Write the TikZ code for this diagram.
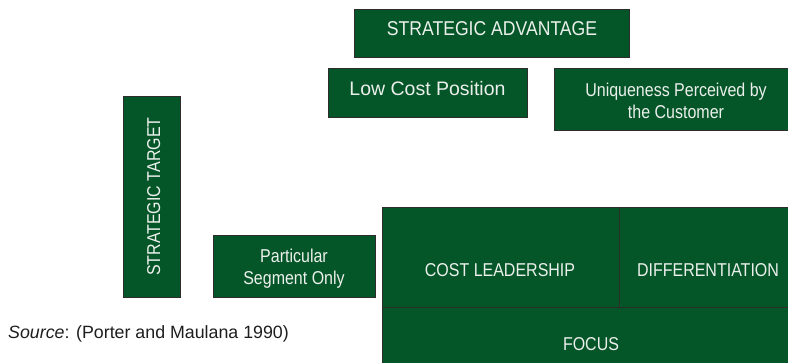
\documentclass[tikz,border=0pt]{standalone}
\usepackage{fontspec}
\setmainfont{Liberation Sans}
\newfontfamily\condf[FakeStretch=0.86]{Liberation Sans}
\newfontfamily\condsa[FakeStretch=0.88]{Liberation Sans}
\definecolor{pgreen}{RGB}{4,86,40}
\definecolor{pborder}{RGB}{45,45,45}
\definecolor{ptext}{RGB}{236,240,236}
\definecolor{psrc}{RGB}{30,30,30}
\begin{document}
\begin{tikzpicture}[x=1pt,y=-1pt,
  gbox/.style={draw=pborder, line width=1pt, fill=pgreen, inner sep=0pt, anchor=north west},
  ltxt/.style={text=ptext, inner sep=0pt, font=\condf\fontsize{18.6}{22}\selectfont, align=center}]
\useasboundingbox (0,0) rectangle (788,362);
\clip (0,0) rectangle (788,362);
% boxes
\node[gbox, minimum width=275pt, minimum height=48pt] (sa) at (354,9) {};
\node[gbox, minimum width=199pt, minimum height=49pt] (lcp) at (328,68) {};
\node[gbox, minimum width=244pt, minimum height=62pt] (uniq) at (554,68) {};
\node[gbox, minimum width=57pt, minimum height=201pt] (st) at (123,96) {};
\node[gbox, minimum width=162pt, minimum height=62pt] (pso) at (213,235) {};
\node[gbox, minimum width=237pt, minimum height=100pt] (cl) at (382,207) {};
\node[gbox, minimum width=179pt, minimum height=100pt] (diff) at (619,207) {};
\node[gbox, minimum width=416pt, minimum height=70pt] (focus) at (382,307) {};
% texts
\node[ltxt, font=\condsa\fontsize{20}{24}\selectfont, anchor=base] (satext) at (492,35.7) {STRATEGIC ADVANTAGE};
\node[ltxt, font=\fontsize{19.5}{24}\selectfont, anchor=base] (lcptext) at (427.5,95) {Low Cost Position};
\node[ltxt, anchor=north] (uniqtext) at (676,83.3) {Uniqueness Perceived by\\the Customer};
\node[ltxt, anchor=base, rotate=90] (sttext) at (160,196.7) {STRATEGIC TARGET};
\node[ltxt, anchor=north] (psotext) at (294,249.3) {Particular\\Segment Only};
\node[ltxt, anchor=base] (cltext) at (500,276.7) {COST LEADERSHIP};
\node[ltxt, anchor=base] (difftext) at (708,276.7) {DIFFERENTIATION};
\node[ltxt, anchor=base] (focustext) at (591,350) {FOCUS};
\node[anchor=base west, inner sep=0pt, text=psrc, font=\fontsize{17.8}{22}\selectfont] (src) at (8,338) {\textit{Source}: (Porter and Maulana 1990)};
\end{tikzpicture}
\end{document}
